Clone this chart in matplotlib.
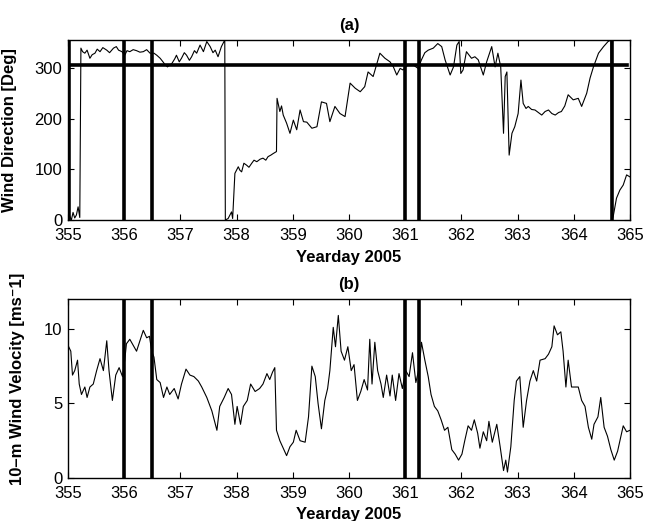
import matplotlib
matplotlib.use("Agg")
import matplotlib.pyplot as plt

# (a) wind direction, yearday vs degrees
dir_day = [355.00, 355.03, 355.06, 355.09, 355.12, 355.15, 355.18, 355.21, 355.23,
           355.26, 355.30, 355.34, 355.39, 355.43, 355.48, 355.52, 355.57, 355.62, 355.69,
           355.74, 355.81, 355.86, 355.90, 355.96, 356.01, 356.05, 356.10, 356.16, 356.22,
           356.28, 356.34, 356.40, 356.46, 356.53, 356.58, 356.64, 356.69, 356.73, 356.77,
           356.85, 356.90, 356.93, 356.98, 357.02, 357.07, 357.11, 357.16, 357.20, 357.25,
           357.29, 357.35, 357.41, 357.47, 357.53, 357.58, 357.62, 357.67, 357.73, 357.79,
           357.80, 357.85, 357.91, 357.93, 357.97, 358.03, 358.06, 358.09, 358.13, 358.18,
           358.22, 358.27, 358.31, 358.36, 358.42, 358.47, 358.52, 358.56, 358.61, 358.65,
           358.71, 358.72, 358.77, 358.80, 358.83, 358.89, 358.95, 359.01, 359.07, 359.13,
           359.19, 359.25, 359.34, 359.43, 359.51, 359.60, 359.66, 359.75, 359.84, 359.93,
           360.02, 360.11, 360.20, 360.28, 360.34, 360.43, 360.49, 360.55, 360.64, 360.73,
           360.79, 360.85, 360.91, 360.96, 361.05, 361.14, 361.23, 361.29, 361.35, 361.41,
           361.50, 361.58, 361.65, 361.71, 361.80, 361.86, 361.92, 361.96, 361.99, 362.03,
           362.09, 362.18, 362.24, 362.30, 362.39, 362.45, 362.54, 362.60, 362.65, 362.70,
           362.75, 362.78, 362.81, 362.85, 362.90, 362.95, 363.01, 363.06, 363.10, 363.15,
           363.19, 363.25, 363.31, 363.37, 363.43, 363.49, 363.55, 363.61, 363.67, 363.73,
           363.78, 363.84, 363.90, 363.99, 364.08, 364.14, 364.23, 364.29, 364.35, 364.44,
           364.53, 364.61, 364.66, 364.68, 364.70, 364.76, 364.82, 364.88, 364.94, 365.00]
dir_deg = [2, 8, 0, 15, 4, 10, 26, 5, 339,
           332, 329, 335, 319, 326, 329, 337, 332, 340, 335,
           330, 339, 342, 335, 332, 325, 334, 332, 336, 334,
           331, 332, 336, 329, 329, 325, 319, 312, 306, 302,
           309, 318, 325, 312, 319, 330, 325, 315, 322, 334,
           329, 345, 332, 352, 342, 330, 335, 322, 342, 355,
           0, 3, 16, 3, 92, 105, 98, 95, 112, 108,
           104, 112, 118, 115, 120, 122, 118, 125, 128, 131,
           135, 240, 214, 225, 207, 191, 171, 197, 178, 217,
           194, 193, 181, 184, 233, 230, 194, 224, 210, 204,
           270, 260, 253, 263, 292, 283, 306, 329, 319, 312,
           302, 286, 299, 296, 306, 306, 299, 316, 330, 335,
           339, 348, 342, 316, 286, 302, 345, 352, 289, 296,
           332, 319, 322, 316, 286, 312, 342, 302, 329, 302,
           171, 283, 292, 128, 171, 184, 210, 276, 230, 220,
           224, 218, 217, 212, 207, 214, 217, 210, 207, 212,
           214, 225, 247, 237, 240, 224, 250, 280, 302, 329,
           342, 352, 355, 0, 6, 43, 59, 69, 89, 85]

# (b) 10-m wind velocity, yearday vs m/s
vel_day = [355.00, 355.05, 355.08, 355.12, 355.17, 355.20, 355.24, 355.30, 355.34, 355.39,
           355.45, 355.51, 355.57, 355.63, 355.69, 355.73, 355.79, 355.85, 355.91, 355.97,
           356.01, 356.04, 356.10, 356.16, 356.22, 356.28, 356.34, 356.40, 356.45, 356.49,
           356.53, 356.58, 356.64, 356.70, 356.76, 356.81, 356.89, 356.96, 357.02, 357.10,
           357.17, 357.24, 357.32, 357.38, 357.47, 357.56, 357.65, 357.70, 357.78, 357.85,
           357.91, 357.97, 358.01, 358.07, 358.12, 358.19, 358.25, 358.33, 358.41, 358.47,
           358.54, 358.59, 358.64, 358.68, 358.71, 358.77, 358.83, 358.89, 358.95, 359.01,
           359.06, 359.13, 359.22, 359.28, 359.34, 359.40, 359.45, 359.51, 359.57, 359.62,
           359.66, 359.72, 359.76, 359.81, 359.86, 359.92, 359.98, 360.04, 360.09, 360.15,
           360.21, 360.27, 360.33, 360.37, 360.41, 360.46, 360.51, 360.57, 360.61, 360.67,
           360.73, 360.77, 360.83, 360.89, 360.95, 361.01, 361.07, 361.13, 361.19, 361.25,
           361.29, 361.35, 361.41, 361.46, 361.52, 361.58, 361.64, 361.70, 361.76, 361.83,
           361.89, 361.95, 362.01, 362.06, 362.12, 362.18, 362.23, 362.29, 362.33, 362.39,
           362.45, 362.49, 362.55, 362.63, 362.69, 362.75, 362.79, 362.82, 362.88, 362.94,
           362.98, 363.04, 363.10, 363.16, 363.22, 363.28, 363.34, 363.40, 363.49, 363.55,
           363.61, 363.65, 363.71, 363.77, 363.81, 363.86, 363.90, 363.96, 364.02, 364.08,
           364.14, 364.20, 364.26, 364.32, 364.36, 364.43, 364.48, 364.54, 364.60, 364.66,
           364.72, 364.78, 364.84, 364.88, 364.94, 365.00]
vel_ms = [8.9, 8.5, 6.9, 7.2, 7.9, 6.3, 5.6, 6.1, 5.4, 6.1,
          6.3, 7.2, 8.0, 7.2, 9.2, 7.2, 5.2, 6.9, 7.4, 6.8,
          7.9, 9.0, 9.3, 8.9, 8.5, 9.2, 9.9, 9.4, 9.5, 8.5,
          8.1, 6.6, 6.4, 5.4, 6.1, 5.6, 6.0, 5.3, 6.3, 7.3,
          6.9, 6.8, 6.5, 6.1, 5.4, 4.5, 3.2, 4.8, 5.4, 6.0,
          5.6, 3.6, 4.8, 3.6, 4.8, 5.2, 6.3, 5.8, 6.0, 6.3,
          7.0, 6.6, 7.1, 7.4, 3.2, 2.5, 2.0, 1.5, 2.1, 2.4,
          3.2, 2.5, 2.4, 4.1, 7.5, 6.8, 5.0, 3.3, 5.2, 6.0,
          7.2, 10.1, 8.8, 10.9, 8.5, 7.9, 8.8, 7.2, 7.6, 5.2,
          5.8, 6.6, 5.9, 9.3, 6.3, 9.1, 7.2, 6.3, 5.4, 6.9,
          5.5, 6.9, 5.2, 7.0, 6.0, 7.2, 6.8, 8.4, 6.4, 7.4,
          9.1, 7.9, 6.8, 5.6, 4.8, 4.5, 3.9, 3.2, 3.4, 1.9,
          1.6, 1.2, 1.6, 2.5, 3.5, 3.2, 3.9, 3.0, 2.0, 3.1,
          2.5, 3.8, 2.4, 3.6, 2.1, 0.5, 1.2, 0.4, 2.1, 5.2,
          6.5, 6.8, 3.4, 5.2, 6.5, 7.2, 6.5, 7.9, 8.0, 8.3,
          8.8, 10.2, 9.6, 9.8, 8.5, 6.1, 7.9, 6.1, 6.1, 6.1,
          5.2, 4.8, 3.4, 2.6, 3.6, 4.1, 5.4, 3.4, 2.8, 1.9,
          1.2, 1.8, 2.8, 3.5, 3.1, 3.2]

xticks = [355, 356, 357, 358, 359, 360, 361, 362, 363, 364, 365]
dir_marks = [355.02, 356.0, 356.5, 361.0, 361.25, 364.68]
vel_marks = [356.0, 356.5, 361.0, 361.25]
dir_ref = 305

plt.rcParams.update({
    "font.family": ["Liberation Sans", "DejaVu Sans"],
    "font.size": 12,
    "xtick.direction": "in",
    "ytick.direction": "in",
    "xtick.top": True,
    "ytick.right": True,
    "axes.linewidth": 1.0,
})

fig = plt.figure(figsize=(6.45, 5.21), dpi=100)
ax1 = fig.add_axes([0.1054, 0.5777, 0.8713, 0.3455])
ax2 = fig.add_axes([0.1054, 0.0825, 0.8713, 0.3436])

# panel (a)
ax1.plot(dir_day, dir_deg, color="black", lw=0.8)
ax1.plot([355, 364.95], [dir_ref, dir_ref], color="black", lw=2.6)
for d in dir_marks:
    ax1.axvline(d, color="black", lw=2.6)
ax1.set_xlim(355, 365)
ax1.set_ylim(0, 355)
ax1.set_xticks(xticks)
ax1.set_yticks([0, 100, 200, 300])
ax1.set_xlabel("Yearday 2005", fontweight="bold")
ax1.set_ylabel("Wind Direction [Deg]", fontweight="bold")
ax1.set_title("(a)", fontweight="bold", fontsize=12, pad=7)
ax1.xaxis.set_label_coords(0.5, -0.165)
ax1.yaxis.set_label_coords(-0.091, 0.5)

# panel (b)
ax2.plot(vel_day, vel_ms, color="black", lw=0.8)
for d in vel_marks:
    ax2.axvline(d, color="black", lw=2.6)
ax2.set_xlim(355, 365)
ax2.set_ylim(0, 12)
ax2.set_xticks(xticks)
ax2.set_yticks([0, 5, 10])
ax2.set_xlabel("Yearday 2005", fontweight="bold")
ax2.set_ylabel("10\u2013m Wind Velocity [ms\u207b1]", fontweight="bold")
ax2.set_title("(b)", fontweight="bold", fontsize=12, pad=7)
ax2.xaxis.set_label_coords(0.5, -0.16)
ax2.yaxis.set_label_coords(-0.0765, 0.555)

for ax in (ax1, ax2):
    ax.tick_params(length=4, width=0.8)
    ax.tick_params(axis="x", pad=6)
    ax.tick_params(axis="y", pad=4)

fig.savefig("out.png", dpi=100)
